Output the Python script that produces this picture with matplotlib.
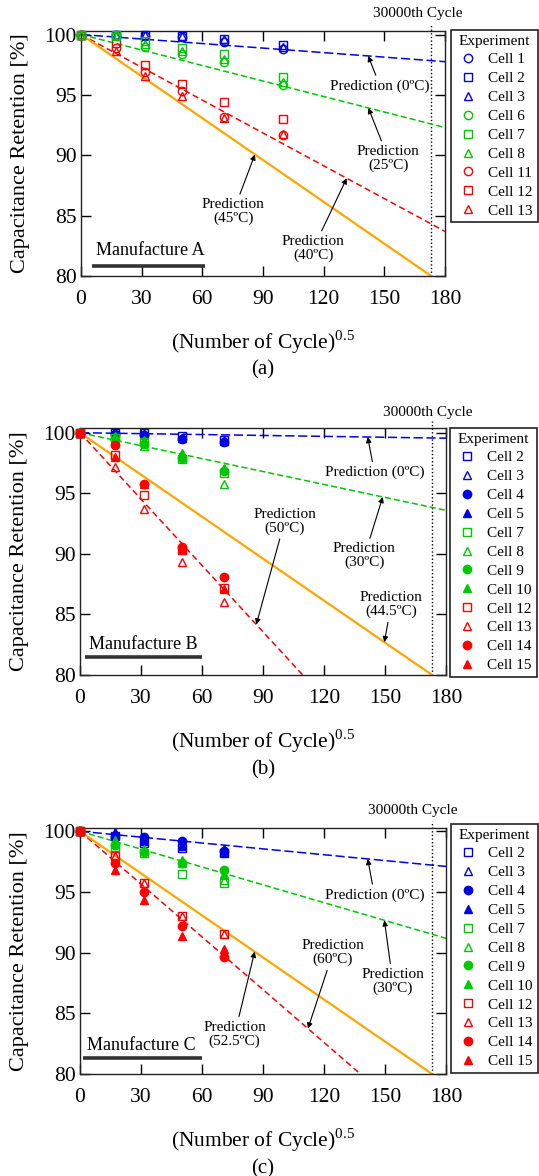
import numpy as np
import matplotlib
matplotlib.use('Agg')
import matplotlib.pyplot as plt
from matplotlib.transforms import blended_transform_factory

plt.rcParams['font.family'] = ['Liberation Serif', 'DejaVu Serif']
plt.rcParams['mathtext.fontset'] = 'custom'
plt.rcParams['mathtext.rm'] = 'Liberation Serif'

BLUE = '#0000e6'
GREEN = '#00c800'
RED = '#ff0000'
ORANGE = '#ffa500'

# (number of cycles)^0.5 at each check-up
x_a = [0, 17.3, 31.6, 50.0, 70.7, 100.0]
x_bc = [0, 17.3, 31.6, 50.0, 70.7]
cycle_limit = 30000

# Manufacture A
cells_a = ['Cell 1', 'Cell 2', 'Cell 3', 'Cell 6', 'Cell 7', 'Cell 8',
           'Cell 11', 'Cell 12', 'Cell 13']
ret_a = [
    [100, 100, 99.9, 99.8, 99.4, 98.8],
    [100, 100, 100, 99.9, 99.6, 99.1],
    [100, 100, 100, 99.9, 99.6, 99.0],
    [100, 99.9, 99.0, 98.35, 97.75, 95.8],
    [100, 100, 99.5, 98.9, 98.4, 96.5],
    [100, 99.9, 99.25, 98.65, 98.0, 96.1],
    [100, 98.85, 96.9, 95.35, 93.2, 91.65],
    [100, 99.3, 97.5, 95.9, 94.4, 93.0],
    [100, 98.65, 96.6, 94.9, 93.1, 91.75],
]
style_a = [('o', BLUE, False), ('s', BLUE, False), ('^', BLUE, False),
           ('o', GREEN, False), ('s', GREEN, False), ('^', GREEN, False),
           ('o', RED, False), ('s', RED, False), ('^', RED, False)]
order_a = [0, 1, 2, 6, 7, 8, 3, 5, 4]

# Manufacture B
cells_b = ['Cell 2', 'Cell 3', 'Cell 4', 'Cell 5', 'Cell 7', 'Cell 8',
           'Cell 9', 'Cell 10', 'Cell 12', 'Cell 13', 'Cell 14', 'Cell 15']
ret_b = [
    [100, 100, 99.95, 99.7, 99.4],
    [100, 100, 99.9, 99.6, 99.3],
    [100, 99.9, 99.8, 99.5, 99.2],
    [100, 100, 99.9, 99.6, 99.3],
    [100, 99.6, 99.2, 97.8, 96.7],
    [100, 99.5, 98.9, 98.0, 95.8],
    [100, 99.4, 99.1, 97.9, 96.8],
    [100, 99.7, 99.4, 98.3, 97.1],
    [100, 98.2, 94.9, 90.3, 87.2],
    [100, 97.2, 93.7, 89.3, 86.0],
    [100, 99.0, 95.8, 90.6, 88.1],
    [100, 98.0, 95.8, 90.4, 87.1],
]

# Manufacture C
cells_c = cells_b
ret_c = [
    [100, 99.6, 99.0, 98.6, 98.2],
    [100, 99.7, 99.2, 98.8, 98.3],
    [100, 99.5, 99.5, 99.2, 98.4],
    [100, 99.9, 99.3, 98.9, 98.5],
    [100, 98.7, 98.2, 96.5, 95.7],
    [100, 99.3, 98.4, 97.4, 96.0],
    [100, 98.9, 98.3, 97.4, 96.8],
    [100, 99.1, 98.5, 97.6, 96.5],
    [100, 98.0, 95.7, 93.0, 91.5],
    [100, 98.0, 95.7, 93.0, 91.5],
    [100, 97.4, 95.0, 92.2, 89.6],
    [100, 96.8, 94.3, 91.4, 90.3],
]
style_bc = []
for col in (BLUE, GREEN, RED):
    style_bc += [('s', col, False), ('^', col, False), ('o', col, True), ('^', col, True)]
order_bc = list(range(12))

# prediction: retention = 100 - k * cycle^0.5
pred_colors = [BLUE, GREEN, RED, ORANGE]
pred_a = [0.0125, 0.0428, 0.0906, 0.1155]
pred_b = [0.0025, 0.0356, 0.1826, 0.1155]
pred_c = [0.0161, 0.0490, 0.1450, 0.1155]

# (text, text x, text y, arrow x, line index)
notes_a = [('Prediction (0ºC)', 147.9, 95.73, 142.0, 0),
           ('Prediction\n(25ºC)', 152.0, 89.74, 142.1, 1),
           ('Prediction\n(45ºC)', 75.3, 85.32, 86.0, 3),
           ('Prediction\n(40ºC)', 114.9, 82.29, 131.4, 2)]
notes_b = [('Prediction (0ºC)', 144.8, 96.72, 141.5, 0),
           ('Prediction\n(30ºC)', 139.9, 89.83, 148.9, 1),
           ('Prediction\n(50ºC)', 100.6, 92.67, 86.7, 2),
           ('Prediction\n(44.5ºC)', 153.0, 85.79, 149.7, 3)]
notes_c = [('Prediction (0ºC)', 144.8, 94.75, 141.5, 0),
           ('Prediction\n(30ºC)', 153.8, 87.65, 149.7, 1),
           ('Prediction\n(60ºC)', 124.4, 89.98, 112.1, 2),
           ('Prediction\n(52.5ºC)', 76.1, 83.28, 85.9, 3)]

W, H = 539, 1176
fig = plt.figure(figsize=(W / 100, H / 100), dpi=100)


def panel(box, legend_box, x, ret, cells, styles, order, preds, notes,
          maker, tag, ytop, cyc_text_x, cyc_text_y):
    l, t, r, b = box
    ax = fig.add_axes([l / W, 1 - b / H, (r - l) / W, (b - t) / H])

    xs = np.array([0, 180])
    dashes = [(6, 2.4), (4, 2), (4, 2.4), None]
    for k, c, d in zip(preds, pred_colors, dashes):
        if d is None:
            ax.plot(xs, 100 - k * xs, color=c, lw=1.6, zorder=2)
        else:
            ax.plot(xs, 100 - k * xs, color=c, lw=1.1, dashes=d, zorder=2)

    handles = {}
    for i in order:
        m, c, filled = styles[i]
        h, = ax.plot(x, ret[i], ls='none', marker=m, ms=6,
                     mec=c, mfc=c if filled else 'none', mew=1.0, zorder=3,
                     clip_on=False)
        handles[i] = h

    # 30000th cycle marker
    xc = np.sqrt(cycle_limit)
    trans = blended_transform_factory(ax.transData, ax.transAxes)
    ax.plot([xc, xc], [0, 1.03], transform=trans, color='k', lw=1.0,
            ls=(0, (1, 1.6)), clip_on=False, zorder=1)
    ax.text(cyc_text_x, cyc_text_y, '30000th Cycle', transform=trans,
            ha='center', va='center', fontsize=11)

    for txt, tx, ty, hx, li in notes:
        ax.annotate(txt, xy=(hx, 100 - preds[li] * hx), xytext=(tx, ty),
                    ha='center', va='center', fontsize=11, linespacing=1.05,
                    arrowprops=dict(arrowstyle='-|>', color='k', lw=0.8,
                                    mutation_scale=8, shrinkA=1, shrinkB=0))

    mt, mx, my, ux0, ux1, uy = maker
    ax.text(mx, my, mt, ha='center', va='center', fontsize=13)
    ax.plot([ux0, ux1], [uy, uy], color='#333333', lw=2.6,
            solid_capstyle='butt')

    ax.set_xlim(0, 180)
    ax.set_ylim(80, ytop)
    ax.set_xticks(np.arange(0, 181, 30))
    ax.set_yticks(np.arange(80, 101, 5))
    ax.tick_params(direction='in', top=True, right=True, length=7, width=1,
                   labelsize=15.5)
    ax.tick_params(axis='x', pad=10)
    ax.tick_params(axis='y', pad=3)
    for s in ax.spines.values():
        s.set_linewidth(1.0)
        s.set_color('#222222')

    ax.set_ylabel('Capacitance Retention [%]', fontsize=16)
    ax.yaxis.set_label_coords(-0.14, 0.5)
    ax.text(0.5, -0.27, r'(Number of Cycle)$^{0.5}$', transform=ax.transAxes,
            ha='center', va='center', fontsize=15.5)
    ax.text(0.5, -0.385, tag, transform=ax.transAxes,
            ha='center', va='center', fontsize=15)

    lx, ly = legend_box
    leg = ax.legend([handles[i] for i in range(len(cells))], cells,
                    title='Experiment', loc='upper left',
                    bbox_to_anchor=(lx / W, 1 - ly / H),
                    bbox_transform=fig.transFigure, borderaxespad=0,
                    fontsize=11, title_fontsize=11, frameon=True,
                    fancybox=False, edgecolor='#222222', framealpha=1,
                    borderpad=0.3, labelspacing=0.34, handlelength=1.6,
                    handletextpad=0.55)
    leg.get_frame().set_linewidth(1.2)
    return ax


panel((81, 31, 445, 276), (451, 30), x_a, ret_a, cells_a, style_a, order_a,
      pred_a, notes_a, ('Manufacture A', 34.1, 82.15, 5.3, 61.3, 80.82),
      '(a)', 100.29, 166.7, 1.073)
panel((80, 428, 446, 675), (450, 428), x_bc, ret_b, cells_b, style_bc,
      order_bc, pred_b, notes_b,
      ('Manufacture B', 31.1, 82.48, 2.5, 59.8, 81.51),
      '(b)', 100.39, 170.8, 1.063)
panel((80, 828, 446, 1074), (451, 824), x_bc, ret_c, cells_c, style_bc,
      order_bc, pred_c, notes_c,
      ('Manufacture C', 30.3, 82.32, 1.6, 59.8, 81.31),
      '(c)', 100.27, 163.5, 1.072)

fig.savefig('out.png', dpi=100)
